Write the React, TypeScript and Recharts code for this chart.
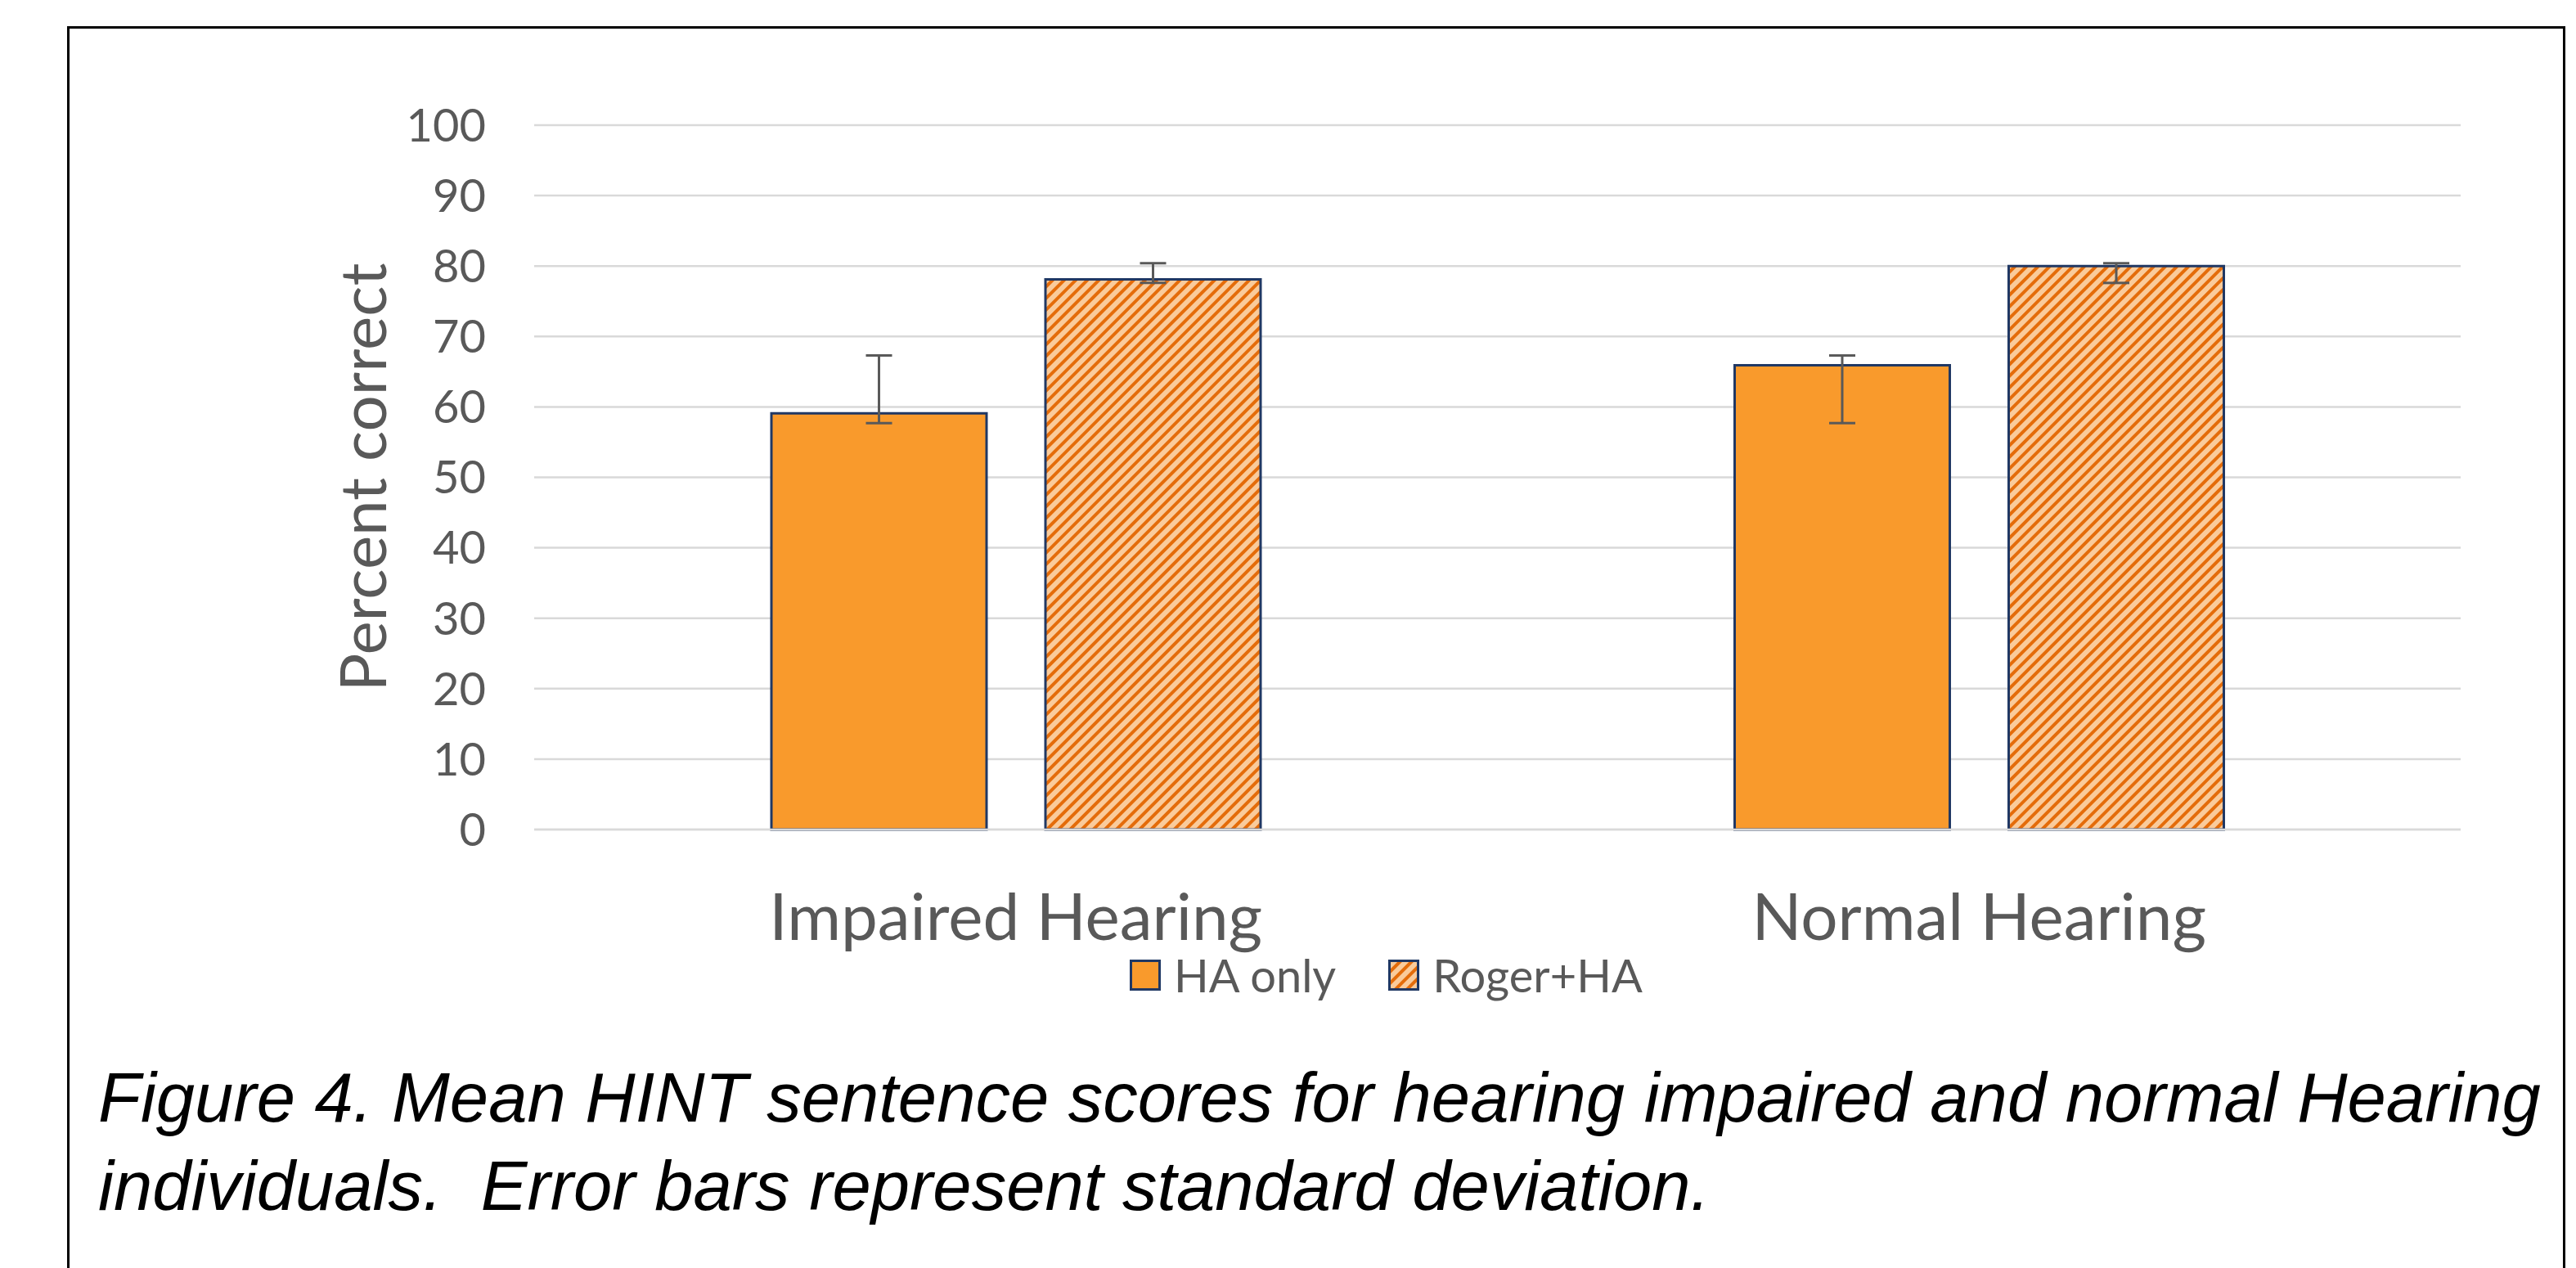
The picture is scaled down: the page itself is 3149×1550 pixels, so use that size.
import { BarChart, Bar, XAxis, YAxis, CartesianGrid, ErrorBar, Legend } from 'recharts'

const categories = ['Impaired Hearing', 'Normal Hearing']
const haOnly = [59.1, 65.9]
const rogerHa = [78.1, 80.0]
// [minus, plus] around each mean
const haOnlyErr = [[1.4, 8.2], [8.2, 1.4]]
const rogerHaErr = [[0.5, 2.3], [2.4, 0.4]]
const yTicks = [0, 10, 20, 30, 40, 50, 60, 70, 80, 90, 100]

const data = categories.map((name, i) => ({
  name,
  ha: haOnly[i],
  haErr: haOnlyErr[i],
  roger: rogerHa[i],
  rogerErr: rogerHaErr[i],
}))

const TEXT = '#595959'
const ORANGE = '#F99A2C'
const EDGE = '#203864'
const FONT = 'Lato, "Open Sans", sans-serif'

function YLabel(props: any) {
  const vb = props.viewBox || { x: 0, y: 0, width: 0, height: 0 }
  const x = vb.x + 472
  const y = vb.y + vb.height / 2
  return (
    <text
      x={x}
      y={y}
      transform={`rotate(-90, ${x}, ${y})`}
      textAnchor="middle"
      fill={TEXT}
      fontSize={78}
      fontFamily={FONT}
    >
      Percent correct
    </text>
  )
}

function LegendBox() {
  const item = (fill: string, label: string) => (
    <div style={{ display: 'flex', alignItems: 'center', marginRight: 64 }}>
      <svg width={38} height={38} style={{ marginRight: 16 }}>
        <rect x={1.5} y={1.5} width={35} height={35} fill={fill} stroke={EDGE} strokeWidth={3} />
      </svg>
      <span style={{ fontFamily: FONT, fontSize: 56, color: TEXT, lineHeight: '60px' }}>{label}</span>
    </div>
  )
  return (
    <div style={{ display: 'flex', alignItems: 'center' }}>
      {item(ORANGE, 'HA only')}
      {item('url(#hatch)', 'Roger+HA')}
    </div>
  )
}

export default function App() {
  return (
    <div
      style={{
        position: 'absolute',
        left: 0,
        top: 0,
        width: 3149,
        height: 1550,
        overflow: 'hidden',
        background: '#fff',
      }}
    >
      <div
        style={{
          position: 'absolute',
          left: 82,
          top: 32,
          width: 3136 - 82,
          height: 1600,
          border: '3px solid #000',
          boxSizing: 'border-box',
        }}
      />
      <div style={{ position: 'absolute', left: 0, top: 0 }}>
        <BarChart
          width={3149}
          height={1250}
          data={data}
          margin={{ top: 153, right: 141, left: 0, bottom: 86 }}
          barSize={263}
          barGap={72}
        >
          <defs>
            <pattern
              id="hatch"
              patternUnits="userSpaceOnUse"
              width={10}
              height={10}
              patternTransform="rotate(45)"
            >
              <rect width={10} height={10} fill="#FACB9B" />
              <rect x={0} y={0} width={4} height={10} fill="#E46C0A" />
            </pattern>
          </defs>
          <CartesianGrid vertical={false} stroke="#D9D9D9" strokeWidth={2.5} />
          <XAxis
            dataKey="name"
            height={150}
            axisLine={{ stroke: '#D9D9D9', strokeWidth: 2.5 }}
            tickLine={false}
            tickSize={0}
            tickMargin={78}
            tick={{ fill: TEXT, fontSize: 80, fontFamily: FONT }}
          />
          <YAxis
            width={653}
            domain={[0, 100]}
            ticks={yTicks}
            interval={0}
            axisLine={false}
            tickLine={false}
            tickSize={0}
            tickMargin={59}
            tick={{ fill: TEXT, fontSize: 56, fontFamily: FONT }}
            label={<YLabel />}
          />
          <Legend
            layout="horizontal"
            verticalAlign="middle"
            align="center"
            content={<LegendBox />}
            wrapperStyle={{ top: 1162, left: 1381, width: 'auto' }}
          />
          <Bar dataKey="ha" name="HA only" fill={ORANGE} stroke={EDGE} strokeWidth={3} isAnimationActive={false}>
            <ErrorBar dataKey="haErr" width={16} strokeWidth={3} stroke={TEXT} direction="y" />
          </Bar>
          <Bar dataKey="roger" name="Roger+HA" fill="url(#hatch)" stroke={EDGE} strokeWidth={3} isAnimationActive={false}>
            <ErrorBar dataKey="rogerErr" width={16} strokeWidth={3} stroke={TEXT} direction="y" />
          </Bar>
        </BarChart>
      </div>
      <div
        style={{
          position: 'absolute',
          left: 120,
          top: 1288,
          fontFamily: '"Liberation Sans", Arial, sans-serif',
          fontStyle: 'italic',
          fontSize: 85,
          lineHeight: '108px',
          color: '#000',
          whiteSpace: 'pre',
        }}
      >
        {'Figure 4. Mean HINT sentence scores for hearing impaired and normal Hearing\nindividuals.  Error bars represent standard deviation.'}
      </div>
    </div>
  )
}
